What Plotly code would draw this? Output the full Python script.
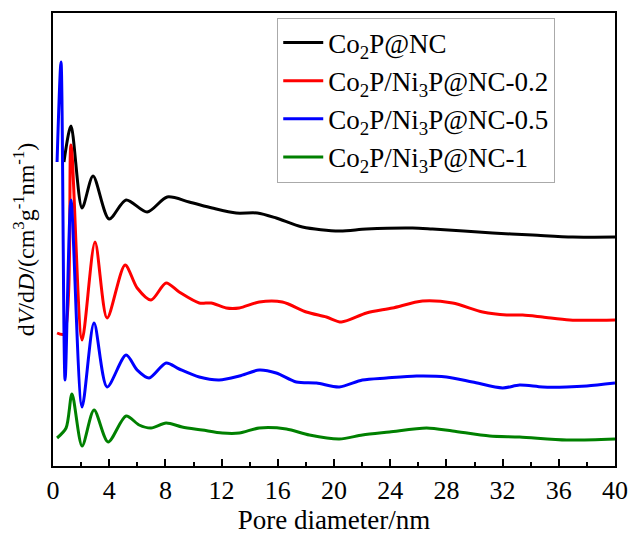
import plotly.graph_objects as go

# Pore diameter (nm) and dV/dD (offset-stacked, arbitrary units)
x_nc = [0.78, 1.28, 2.07, 2.85, 3.99, 5.20, 6.70, 8.13, 9.69, 11.33, 13.04, 14.54, 15.89,
        17.75, 20.38, 22.31, 25.59, 27.01, 31.29, 34.14, 36.99, 40.0]
y_nc = [30.4, 34.0, 25.8, 29.0, 24.7, 26.6, 25.4, 26.9, 26.4, 25.8, 25.3, 25.3, 24.8,
        23.9, 23.5, 23.7, 23.8, 23.7, 23.3, 23.1, 22.9, 22.9]

x_02 = [0.29, 0.78, 1.28, 2.07, 2.99, 3.85, 5.13, 5.99, 6.98, 8.05, 8.98, 10.41, 11.26,
        12.33, 13.26, 14.68, 16.32, 18.03, 19.46, 20.53, 22.31, 24.16, 26.30, 28.44,
        30.58, 32.29, 33.43, 34.85, 36.78, 40.0]
y_02 = [13.3, 13.2, 32.1, 12.6, 22.4, 14.8, 20.1, 17.8, 16.6, 18.3, 17.4, 16.3, 16.3,
        15.8, 15.8, 16.4, 16.4, 15.4, 14.9, 14.4, 15.3, 15.8, 16.5, 16.3,
        15.4, 15.1, 15.1, 14.9, 14.6, 14.6]

x_05 = [0.29, 0.57, 0.86, 1.28, 2.07, 2.92, 3.85, 5.20, 5.99, 6.84, 8.05, 8.98, 10.41,
        11.83, 13.26, 14.68, 15.89, 17.32, 18.75, 20.38, 22.02, 23.73, 25.87, 28.01,
        29.86, 32.00, 33.21, 34.85, 36.56, 37.99, 40.0]
y_05 = [30.4, 40.4, 8.6, 26.6, 5.9, 14.3, 7.9, 11.1, 9.6, 8.8, 10.3, 9.7, 8.9,
        8.6, 9.0, 9.6, 9.3, 8.4, 8.3, 7.9, 8.6, 8.8, 9.0, 8.9,
        8.4, 7.8, 8.1, 7.9, 7.9, 8.0, 8.3]

x_1 = [0.29, 0.93, 1.35, 2.07, 2.92, 3.92, 5.20, 6.13, 6.98, 8.05, 9.19, 10.62, 12.05,
       13.26, 14.68, 16.61, 18.25, 20.38, 22.02, 23.95, 26.59, 28.44, 31.08, 33.21,
       36.56, 40.0]
y_1 = [2.8, 3.8, 7.2, 2.0, 5.6, 2.4, 5.0, 4.1, 3.8, 4.3, 3.9, 3.6, 3.3,
       3.3, 3.8, 3.7, 3.1, 2.7, 3.1, 3.4, 3.8, 3.5, 3.0, 2.9,
       2.6, 2.7]

names = ["Co<sub>2</sub>P@NC",
         "Co<sub>2</sub>P/Ni<sub>3</sub>P@NC-0.2",
         "Co<sub>2</sub>P/Ni<sub>3</sub>P@NC-0.5",
         "Co<sub>2</sub>P/Ni<sub>3</sub>P@NC-1"]
colors = ["#000000", "#ff0000", "#0000ff", "#008000"]
xs = [x_nc, x_02, x_05, x_1]
ys = [y_nc, y_02, y_05, y_1]

x_ticks = list(range(0, 41, 4))

fig = go.Figure()
for i, (xv, yv, nm, c) in enumerate(zip(xs, ys, names, colors)):
    fig.add_trace(go.Scatter(x=xv, y=yv, mode="lines", name=nm, legendgroup=str(i),
                             line=dict(color=c, width=3, shape="spline", smoothing=0.8)))

font_family = "Liberation Serif, Times New Roman, serif"
fig.update_layout(
    width=631, height=536,
    margin=dict(l=53, r=16, t=13, b=70),
    paper_bgcolor="white", plot_bgcolor="white",
    font=dict(family=font_family, size=26, color="#000"),
    showlegend=True,
    legend=dict(x=0.399, y=0.99, xanchor="left", yanchor="top",
                bordercolor="#aaaaaa", borderwidth=1, bgcolor="white",
                font=dict(family=font_family, size=27, color="#000"),
                traceorder="grouped", tracegroupgap=0, itemwidth=40),
    xaxis=dict(range=[0, 40], tickvals=x_ticks, ticks="inside", ticklen=7, tickwidth=1.5,
               tickcolor="#000", showline=True, linecolor="#000", linewidth=2, mirror=True,
               showgrid=False, zeroline=False, automargin=False,
               minor=dict(dtick=2, tick0=0, ticks="inside", ticklen=4, tickcolor="#000", tickwidth=1.5),
               title=dict(text="Pore diameter/nm", font=dict(size=27), standoff=4),
               tickfont=dict(size=26)),
    yaxis=dict(range=[0, 45.3], showticklabels=False, ticks="", showline=True, linecolor="#000",
               linewidth=2, mirror=True, showgrid=False, zeroline=False, automargin=False,
               title=dict(text="d<i>V</i>/d<i>D</i>/(cm<sup>3</sup>g<sup>-1</sup>nm<sup>-1</sup>)",
                          font=dict(size=24), standoff=10)),
)

fig.write_html("out.html")
